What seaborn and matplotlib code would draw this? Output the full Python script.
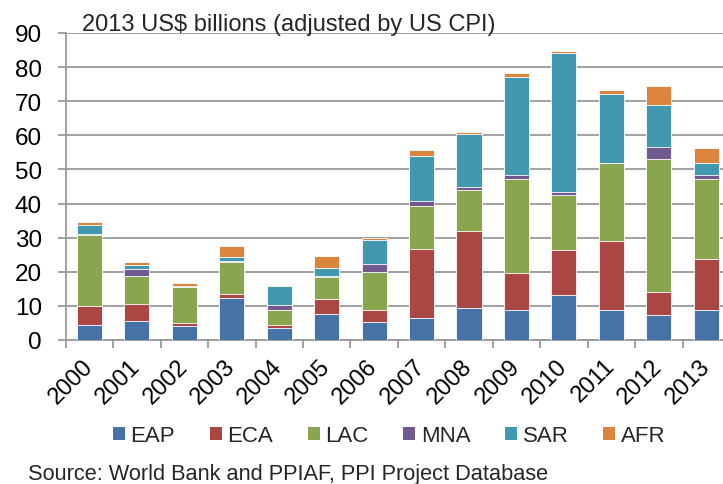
"""Stacked bars of private participation in infrastructure investment by region, 2000-2013."""

import matplotlib.pyplot as plt
import numpy as np
import pandas as pd
import seaborn as sns
from matplotlib.patches import Patch

# values (2013 US$ billions)
years = [str(y) for y in range(2000, 2014)]
regions = ["EAP", "ECA", "LAC", "MNA", "SAR", "AFR"]
eap = [4.5, 5.6, 4.2, 12.3, 3.6, 7.6, 5.2, 6.4, 9.4, 8.8, 13.2, 8.8, 7.2, 8.8]
eca = [5.5, 5.0, 0.9, 1.2, 0.8, 4.4, 3.6, 20.3, 22.5, 10.8, 13.3, 20.1, 6.8, 15.0]
lac = [20.8, 8.3, 10.3, 9.4, 4.5, 6.4, 11.0, 12.7, 12.2, 27.6, 16.1, 23.0, 39.0, 23.4]
mna = [0.3, 1.9, 0.1, 0.3, 1.4, 0.35, 2.5, 1.4, 0.7, 1.3, 0.7, 0.1, 3.6, 1.1]
sar = [2.6, 1.1, 0.4, 1.1, 5.5, 2.35, 6.9, 13.1, 15.5, 28.7, 40.9, 20.2, 12.3, 3.5]
afr = [0.8, 1.0, 0.7, 3.3, 0.1, 3.5, 0.7, 1.7, 0.7, 1.2, 0.5, 1.2, 5.6, 4.5]

colors = ["#4572A7", "#AA4643", "#89A54E", "#71588F", "#4198AF", "#DB843D"]

df = pd.DataFrame({"EAP": eap, "ECA": eca, "LAC": lac, "MNA": mna, "SAR": sar, "AFR": afr},
                  index=years)
cum = df.cumsum(axis=1)

sns.set_theme(style="white")
plt.rcParams["font.family"] = ["Liberation Sans", "DejaVu Sans"]

fig = plt.figure(figsize=(7.23, 4.85), dpi=100)
ax = fig.add_axes([65.7 / 723, 1 - 341 / 485, (730 - 65.7) / 723, (341 - 34) / 485])

# draw cumulative totals from the top segment down so each layer covers the one above it
for region, color in zip(regions[::-1], colors[::-1]):
    sns.barplot(x=years, y=cum[region].values, order=years, color=color, width=0.53,
                edgecolor="white", linewidth=0.6, saturation=1, ax=ax, zorder=3)

ax.set_xlim(-0.5, len(years) - 0.5)
ax.set_ylim(0, 90)
ax.set_yticks(np.arange(0, 91, 10))
ax.yaxis.grid(True, color="#9A9A9A", linewidth=1.3, zorder=0)
ax.set_axisbelow(True)

for side in ["top", "right"]:
    ax.spines[side].set_visible(False)
for side in ["left", "bottom"]:
    ax.spines[side].set_color("#9A9A9A")
    ax.spines[side].set_linewidth(1.3)

ax.set_xticks(range(len(years)))
ax.set_xticklabels(years, rotation=45, ha="right", va="center", rotation_mode="anchor")
ax.set_xticks(np.arange(-0.5, len(years), 1), minor=True)
ax.tick_params(axis="x", which="major", length=0, pad=16, labelsize=17, colors="black")
ax.tick_params(axis="x", which="minor", length=6, width=1.3, color="#9A9A9A", direction="out",
               bottom=True)
ax.tick_params(axis="y", length=6, width=1.3, color="#9A9A9A", direction="out", left=True,
               pad=11, labelsize=17.5, labelcolor="black")
ax.set_xlabel("")
ax.set_ylabel("")

fig.text(82 / 723, 1 - 31 / 485, "2013 US$ billions (adjusted by US CPI)", fontsize=17,
         va="baseline", ha="left")

handles = [Patch(facecolor=c, edgecolor="none", label=r) for r, c in zip(regions, colors)]
fig.legend(handles=handles, loc="center", bbox_to_anchor=(389 / 723, 1 - 437 / 485), ncol=6,
           frameon=False, fontsize=16, handlelength=0.55, handleheight=0.55, handletextpad=0.25,
           columnspacing=1.55, borderaxespad=0)

fig.text(28 / 723, 1 - 480 / 485, "Source: World Bank and PPIAF, PPI Project Database",
         fontsize=15.7, va="baseline", ha="left")

fig.savefig("out.png", dpi=100)
